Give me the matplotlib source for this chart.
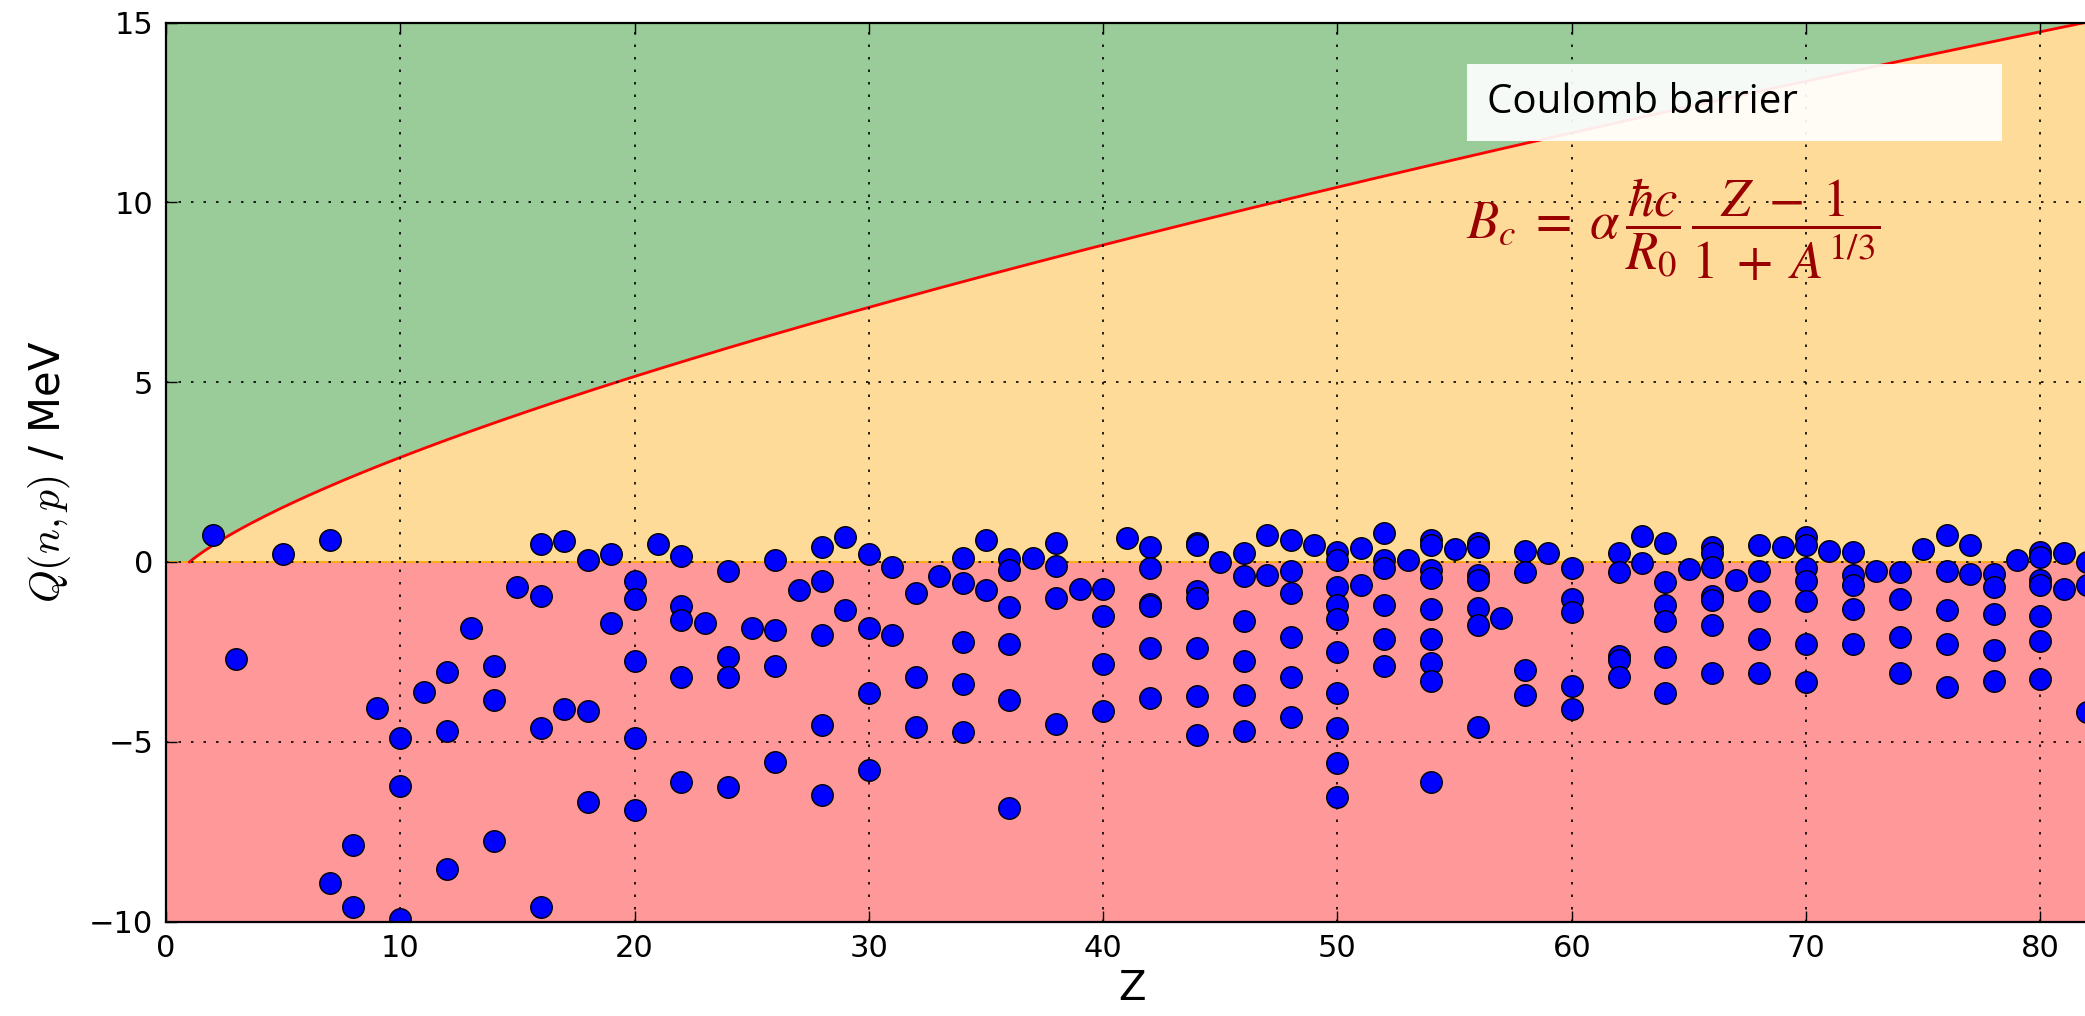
import numpy as np
import matplotlib
matplotlib.use("Agg")
import matplotlib.pyplot as plt
from matplotlib.patches import Rectangle

plt.rcParams['font.family'] = ['DejaVu Sans']
plt.rcParams['mathtext.fontset'] = 'cm'

# ---- data ----
z_values = [2, 3, 5, 7, 7, 8, 8, 9, 10, 10, 10, 11, 12, 12, 12, 13, 14, 14, 14, 15,
            16, 16, 16, 16, 17, 17, 18, 18, 18, 19, 19, 20, 20, 20, 20, 20, 21,
            22, 22, 22, 22, 22, 23, 24, 24, 24, 24, 25, 26, 26, 26, 26, 27,
            28, 28, 28, 28, 28, 29, 29, 30, 30, 30, 30, 31, 31, 32, 32, 32, 33,
            34, 34, 34, 34, 34, 35, 35, 36, 36, 36, 36, 36, 36, 37, 38, 38, 38, 38,
            39, 40, 40, 40, 40, 41, 42, 42, 42, 42, 42, 42,
            44, 44, 44, 44, 44, 44, 44, 45, 46, 46, 46, 46, 46, 46, 47, 47,
            48, 48, 48, 48, 48, 48, 49,
            50, 50, 50, 50, 50, 50, 50, 50, 50, 50, 51, 51,
            52, 52, 52, 52, 52, 52, 53,
            54, 54, 54, 54, 54, 54, 54, 54, 54, 55,
            56, 56, 56, 56, 56, 56, 56, 57, 58, 58, 58, 58, 59,
            60, 60, 60, 60, 60, 62, 62, 62, 62, 62, 63, 63,
            64, 64, 64, 64, 64, 64, 65, 66, 66, 66, 66, 66, 66, 66, 67,
            68, 68, 68, 68, 68, 69, 70, 70, 70, 70, 70, 70, 70, 71,
            72, 72, 72, 72, 72, 73, 74, 74, 74, 74, 75,
            76, 76, 76, 76, 76, 77, 77, 78, 78, 78, 78, 78, 79,
            80, 80, 80, 80, 80, 80, 80, 81, 81, 82, 82, 82]
q_values = [0.75, -2.70, 0.21, 0.60, -8.94, -7.86, -9.59, -4.06, -4.89, -6.24, -9.93, -3.61,
            -3.05, -4.70, -8.55, -1.84, -2.89, -3.85, -7.75, -0.70,
            0.50, -0.96, -4.61, -9.59, 0.59, -4.10, 0.06, -4.15, -6.69, 0.21, -1.71,
            -0.52, -1.03, -2.75, -4.89, -6.89, 0.50,
            0.17, -1.23, -1.62, -3.21, -6.11, -1.69, -0.25, -2.63, -3.21, -6.25, -1.85,
            0.06, -1.90, -2.89, -5.56, -0.79,
            0.42, -0.54, -2.04, -4.54, -6.48, 0.70, -1.34, 0.22, -1.83, -3.64, -5.79,
            -0.15, -2.04, -0.86, -3.19, -4.59, -0.40,
            0.10, -0.59, -2.22, -3.39, -4.73, 0.61, -0.79,
            0.07, -0.22, -1.25, -2.29, -3.84, -6.84, 0.10, 0.52, -0.11, -1.00, -4.52,
            -0.75, -0.75, -1.51, -2.84, -4.15, 0.66, 0.42, -0.16, -1.16, -1.23, -2.40, -3.79,
            0.52, 0.47, -0.82, -1.00, -2.38, -3.74, -4.80, 0.0,
            0.24, -0.40, -1.65, -2.75, -3.69, -4.70, 0.76, -0.36,
            0.61, -0.24, -0.85, -2.09, -3.21, -4.30, 0.47,
            0.29, 0.06, -0.70, -1.21, -1.58, -2.50, -3.65, -4.61, -5.60, -6.54, 0.38, -0.63,
            0.81, 0.06, -0.17, -1.21, -2.13, -2.89, 0.06,
            0.61, 0.47, -0.22, -0.45, -1.32, -2.13, -2.80, -3.30, -6.11, 0.35,
            0.52, 0.42, -0.36, -0.50, -1.28, -1.74, -4.59, -1.55, 0.31, -0.29, -3.00, -3.69, 0.24,
            -0.16, -1.03, -1.40, -3.44, -4.10, 0.24, -0.29, -2.61, -2.73, -3.19, 0.72, -0.04,
            0.52, -0.57, -1.21, -1.65, -2.64, -3.65, -0.20,
            0.42, 0.24, -0.13, -0.96, -1.05, -1.74, -3.09, -0.50,
            0.47, -0.25, -1.09, -2.13, -3.09, 0.42, 0.70, 0.47, -0.17, -0.54, -1.09, -2.29, -3.35, 0.31,
            0.27, -0.36, -0.63, -1.31, -2.29, -0.25, -0.29, -1.03, -2.09, -3.09, 0.35,
            0.76, -0.25, -1.34, -2.29, -3.49, 0.47, -0.34, -0.33, -0.70, -1.46, -2.45, -3.30, 0.06,
            0.29, 0.15, -0.50, -0.63, -1.51, -2.20, -3.26, 0.26, -0.75, 0.0, -0.63, -4.18]

# Coulomb barrier constants (as in the formula shown on the chart)
alpha_hbar_c = 1.44   # MeV fm
R0 = 1.2              # fm
x_ticks = [0, 10, 20, 30, 40, 50, 60, 70, 80]
y_ticks = [-10, -5, 0, 5, 10, 15]

# ---- figure ----
W, H = 2085, 1016
fig = plt.figure(figsize=(W / 100, H / 100), dpi=100)
ax = fig.add_axes([166 / W, 1 - 921.5 / H, (2098 - 166) / W, (921.5 - 22.6) / H])

xmax = 82.46
ymin, ymax = -10, 15
Zc = np.linspace(1, xmax, 400)
Ac = 2 * Zc
Bc = alpha_hbar_c / R0 * (Zc - 1) / (1 + Ac ** (1 / 3))

ax.fill_between([0, xmax], ymin, 0, color=(1.0, 0.6, 0.6), lw=0, zorder=0.5)
ax.fill_between([0, xmax], 0, ymax, color=(0.6, 0.8, 0.6), lw=0, zorder=0.5)
ax.fill_between(Zc, 0, Bc, color=(1.0, 0.86, 0.6), lw=0, zorder=0.6)
ax.axhline(0, color='orange', lw=1.2, zorder=0.8)
ax.plot(Zc, Bc, color='red', lw=2, zorder=1)

ax.plot(z_values, q_values, 'o', color='blue', mec='black', mew=1, ms=15.5, zorder=2)

ax.set_xlim(0, xmax)
ax.set_ylim(ymin, ymax)
ax.set_xticks(x_ticks)
ax.set_yticks(y_ticks)
ax.grid(True, color='black', linestyle=(0, (1.5, 6)), linewidth=1.2)
ax.tick_params(direction='in', length=8, width=1, labelsize=22, pad=9,
               top=True, right=True)
for s in ax.spines.values():
    s.set_linewidth(1.6)

ax.set_xlabel('Z', fontsize=29, labelpad=4)
ax.set_ylabel(r'$Q(n,p)$ / MeV', fontsize=30, labelpad=12)

# Coulomb barrier label box
fig.patches.append(Rectangle((1467 / W, 1 - 141 / H), 535 / W, 77 / H,
                             transform=fig.transFigure, facecolor='white',
                             edgecolor='none', alpha=0.92, zorder=5))
fig.text(1487 / W, 1 - 103 / H, 'Coulomb barrier', fontsize=29,
         family='Open Sans', va='center', ha='left', zorder=6)

fig.text(1673 / W, 1 - 230 / H,
         r'$B_c\;=\;\alpha\,\dfrac{\hbar c}{R_0}\,\dfrac{Z\;-\;1}{1\;+\;A^{1/3}}$',
         fontsize=38, color='#990000', ha='center', va='center',
         math_fontfamily='stix', zorder=6)

fig.savefig('out.png', dpi=100)
